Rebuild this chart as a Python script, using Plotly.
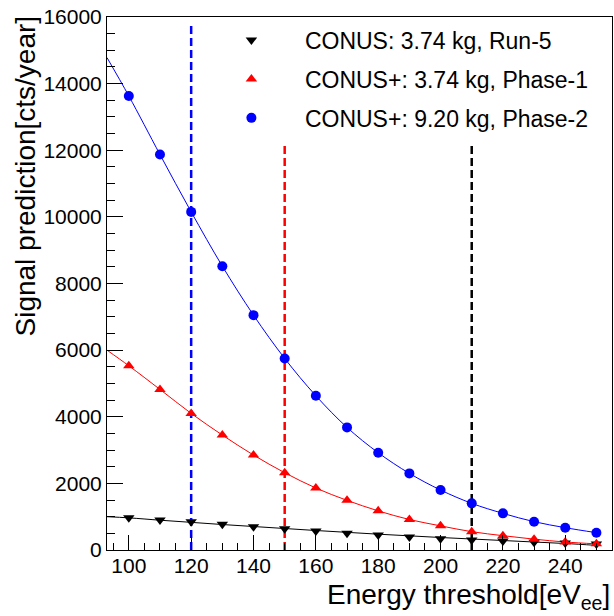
import plotly.graph_objects as go

# ---- data ----
energy = [100, 110, 120, 130, 140, 150, 160, 170, 180, 190, 200, 210, 220, 230, 240, 250]

conus_run5 = [970, 900, 850, 770, 700, 640, 570, 500, 450, 390, 340, 300, 270, 230, 210, 180]
conusp_phase1 = [5530, 4820, 4100, 3450, 2850, 2320, 1860, 1490, 1175, 915, 725, 550, 430, 325, 240, 185]
conusp_phase2 = [13630, 11870, 10150, 8520, 7050, 5750, 4630, 3680, 2920, 2300, 1800, 1400, 1100, 850, 670, 520]

# fitted curves (start value at left frame edge)
fit_x = [93] + energy
fit_run5 = [1000] + [965, 895, 830, 765, 705, 645, 585, 530, 475, 425, 375, 330, 285, 240, 195, 140]
fit_phase1 = [6000] + conusp_phase1
fit_phase2 = [14780] + conusp_phase2

# threshold markers (vertical dashed lines): x, top value
thr_x = [120, 150, 210]
thr_top = [15850, 12200, 12200]
thr_colors = ["#0000ff", "#ff0000", "#000000"]

labels = ["CONUS: 3.74 kg, Run-5", "CONUS+: 3.74 kg, Phase-1", "CONUS+: 9.20 kg, Phase-2"]
colors = ["#000000", "#ff0000", "#0000ff"]
symbols = ["triangle-down", "triangle-up", "circle"]

x_range = [93, 255]
y_range = [0, 16000]

fig = go.Figure()

# dashed threshold lines
for xv, top, c in zip(thr_x, thr_top, thr_colors):
    fig.add_trace(go.Scatter(x=[xv, xv], y=[0, top], mode="lines",
                             line=dict(color=c, width=2.5, dash="8px,4px"),
                             showlegend=False, hoverinfo="skip"))

# fit curves
for fy, c in zip([fit_run5, fit_phase1, fit_phase2], colors):
    fig.add_trace(go.Scatter(x=fit_x, y=fy, mode="lines",
                             line=dict(color=c, width=1, shape="spline", smoothing=1.0),
                             showlegend=False, hoverinfo="skip"))

# markers
for i, (yv, c, s, lab) in enumerate(zip([conus_run5, conusp_phase1, conusp_phase2], colors, symbols, labels)):
    fig.add_trace(go.Scatter(x=energy, y=yv, mode="markers", name=lab,
                             marker=dict(color=c, symbol=s, size=10,
                                         line=dict(width=0)),
                             legendgroup=f"g{i}"))

fig.update_layout(
    width=614, height=616,
    margin=dict(l=107, r=2, t=17, b=66, autoexpand=False),
    paper_bgcolor="white", plot_bgcolor="white",
    font=dict(family="Liberation Sans, Arial, sans-serif", color="black", size=21),
    showlegend=True,
    legend=dict(x=0.180, y=0.997, xanchor="left", yanchor="top",
                bgcolor="rgba(0,0,0,0)", font=dict(size=23),
                itemwidth=97, tracegroupgap=6, traceorder="grouped"),
    xaxis=dict(range=x_range, showgrid=False, zeroline=False,
               showline=True, linecolor="black", linewidth=1, mirror=True,
               ticks="inside", ticklen=15, tickcolor="black", tick0=0, dtick=20,
               minor=dict(ticks="inside", ticklen=7, tickcolor="black", dtick=5),
               tickfont=dict(size=21), ticklabelstandoff=-3),
    yaxis=dict(range=y_range, showgrid=False, zeroline=False,
               showline=True, linecolor="black", linewidth=1, mirror=True,
               ticks="inside", ticklen=16, tickcolor="black", tick0=0, dtick=2000,
               tickformat="d",
               minor=dict(ticks="inside", ticklen=8, tickcolor="black", dtick=500),
               tickfont=dict(size=21), ticklabelstandoff=0),
    annotations=[
        dict(text="Energy threshold[eV<sub>ee</sub>]", xref="paper", yref="paper",
             x=1.0, y=-0.05, xanchor="right", yanchor="top", showarrow=False,
             font=dict(size=28)),
        dict(text="Signal prediction[cts/year]", xref="paper", yref="paper",
             x=-0.162, y=1.006, xanchor="center", yanchor="top", textangle=-90,
             showarrow=False, font=dict(size=28)),
    ],
)

fig.write_html("out.html", config={"displayModeBar": False},
               post_script="document.body.style.margin='0';")
